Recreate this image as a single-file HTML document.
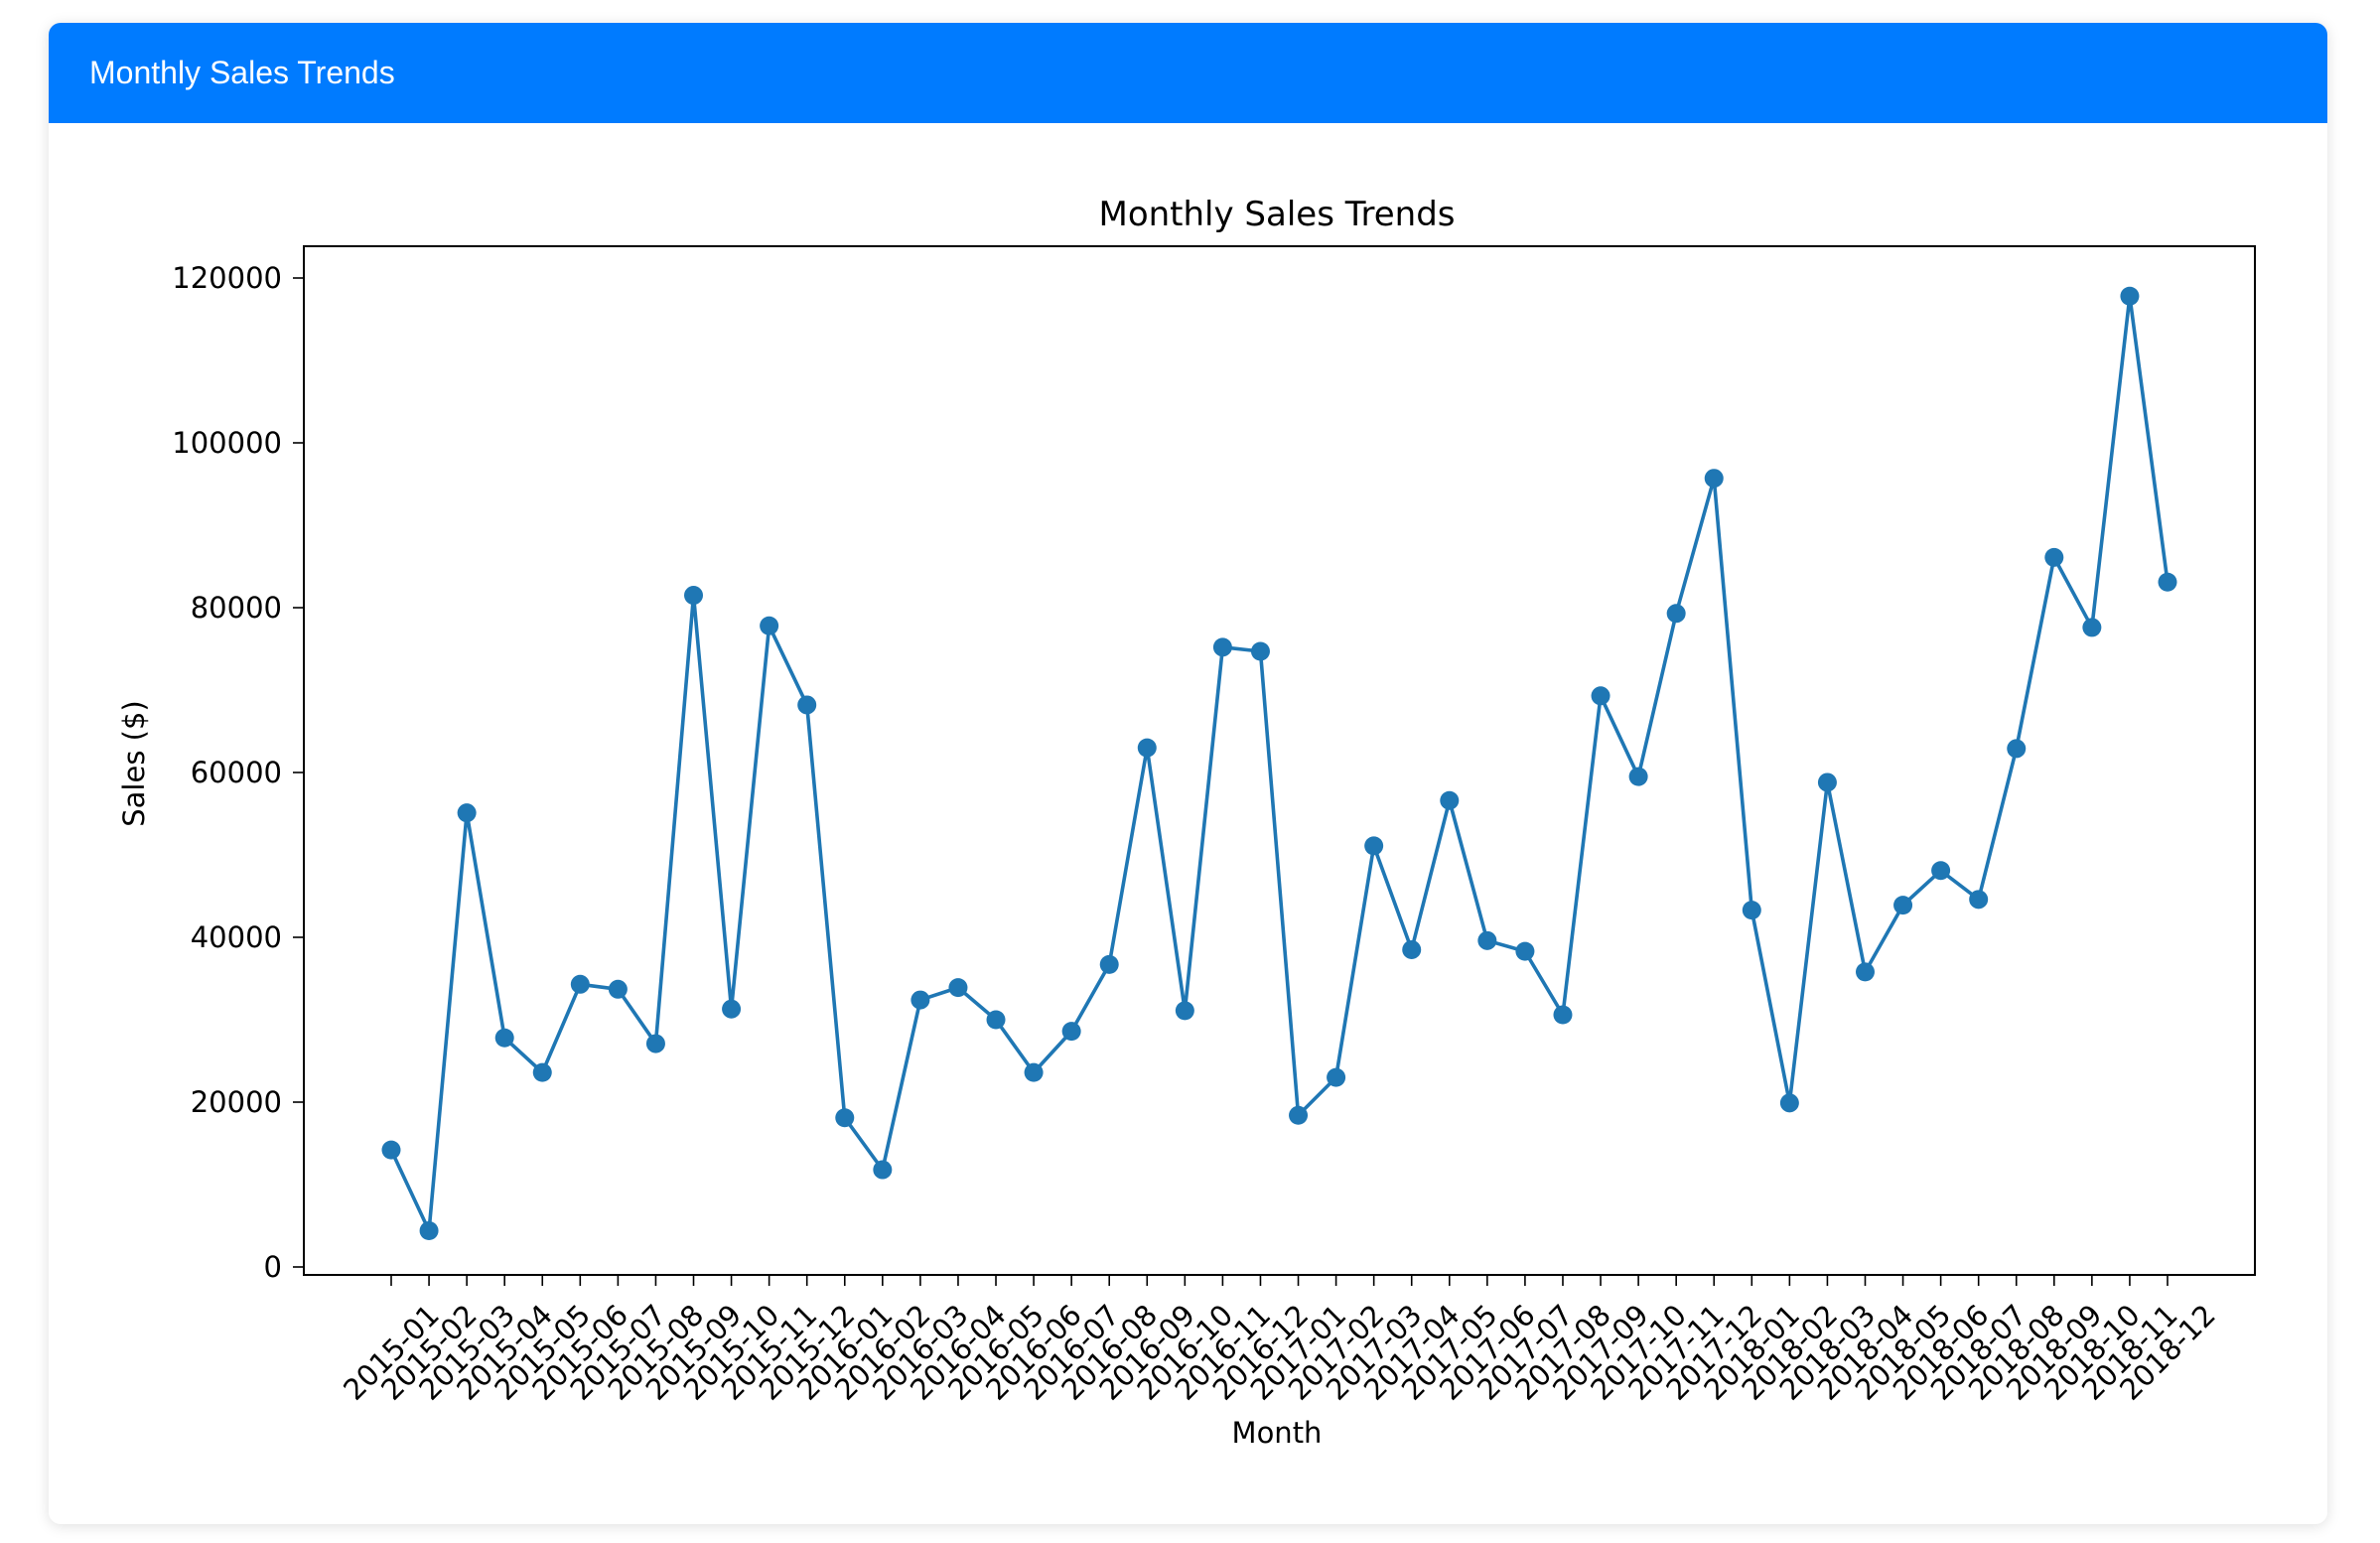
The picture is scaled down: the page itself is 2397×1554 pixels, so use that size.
<!DOCTYPE html>
<html><head><meta charset="utf-8"><title>Monthly Sales Trends</title>
<style>
html,body{margin:0;padding:0;background:#fff;width:2397px;height:1554px;overflow:hidden;}
#card{position:absolute;left:49px;top:23px;width:2295px;height:1512px;background:#fff;border-radius:12px;box-shadow:0 2px 14px rgba(0,0,0,0.13);overflow:hidden;}
#hdr{position:absolute;left:0;top:0;width:100%;height:101px;background:#007bff;color:#fff;font-family:"Liberation Sans",sans-serif;font-size:32px;line-height:101px;padding-left:41px;box-sizing:border-box;}
svg{position:absolute;left:0;top:0;}
</style></head><body>
<div id="card">
<div id="hdr">Monthly Sales Trends</div>
</div>
<svg id="chart" width="2397" height="1554" font-family="DejaVu Sans, Liberation Sans, sans-serif"></svg>
<script>
const months = ["2015-01","2015-02","2015-03","2015-04","2015-05","2015-06","2015-07","2015-08","2015-09","2015-10","2015-11","2015-12","2016-01","2016-02","2016-03","2016-04","2016-05","2016-06","2016-07","2016-08","2016-09","2016-10","2016-11","2016-12","2017-01","2017-02","2017-03","2017-04","2017-05","2017-06","2017-07","2017-08","2017-09","2017-10","2017-11","2017-12","2018-01","2018-02","2018-03","2018-04","2018-05","2018-06","2018-07","2018-08","2018-09","2018-10","2018-11","2018-12"];
const sales = [14200,4400,55100,27800,23600,34300,33700,27100,81500,31300,77800,68200,18100,11800,32400,33900,30000,23600,28600,36700,63000,31100,75200,74700,18400,23000,51100,38500,56600,39600,38300,30600,69300,59500,79300,95700,43300,19900,58800,35800,43900,48100,44600,62900,86100,77600,117800,83100];
const yTicks = [0,20000,40000,60000,80000,100000,120000];

const NS="http://www.w3.org/2000/svg";
const svg=document.getElementById('chart');
const L=306,T=248,R=2271,B=1284;
const x0=394,x1=2183;
function xs(i){return x0+(x1-x0)*i/(months.length-1);}
function ys(v){return 1276-(1276-280)*v/120000;}
function mk(tag,attrs,parent){const e=document.createElementNS(NS,tag);for(const k in attrs)e.setAttribute(k,attrs[k]);(parent||svg).appendChild(e);return e;}

const title=mk('text',{x:1286,y:227,'text-anchor':'middle','font-size':34,fill:'#000'});
title.textContent='Monthly Sales Trends';



const frame=mk('rect',{x:L,y:T,width:R-L,height:B-T,fill:'none',stroke:'#000','stroke-width':2});



yTicks.forEach(v=>{
  const y=ys(v);
  const t=mk('line',{x1:295,x2:L,y1:y,y2:y,stroke:'#000','stroke-width':1.6});
  
  
  const lb=mk('text',{x:284,y:y+10,'text-anchor':'end','font-size':29,fill:'#000'});
  lb.textContent=String(v);
  
  
});

months.forEach((m,i)=>{
  const x=xs(i);
  const t=mk('line',{x1:x,x2:x,y1:B,y2:B+11,stroke:'#000','stroke-width':1.6});
  
  
  const lb=mk('text',{x:x,y:1362,'text-anchor':'middle','dominant-baseline':'central','font-size':29,fill:'#000',transform:'rotate(-45 '+x+' 1362)'});
  lb.textContent=m;
  
  
});

const yl=mk('text',{x:145,y:769,'text-anchor':'middle','font-size':29,fill:'#000',transform:'rotate(-90 145 769)'});
yl.textContent='Sales ($)';



const xl=mk('text',{x:1286,y:1453,'text-anchor':'middle','font-size':29,fill:'#000'});
xl.textContent='Month';



const pts=sales.map((v,i)=>xs(i)+','+ys(v)).join(' ');
const line=mk('polyline',{points:pts,fill:'none',stroke:'#1f77b4','stroke-width':3.6,'stroke-linejoin':'round'});



sales.forEach((v,i)=>{
  const c=mk('circle',{cx:xs(i),cy:ys(v),r:9.5,fill:'#1f77b4'});
  
  
});
</script>
</body></html>
